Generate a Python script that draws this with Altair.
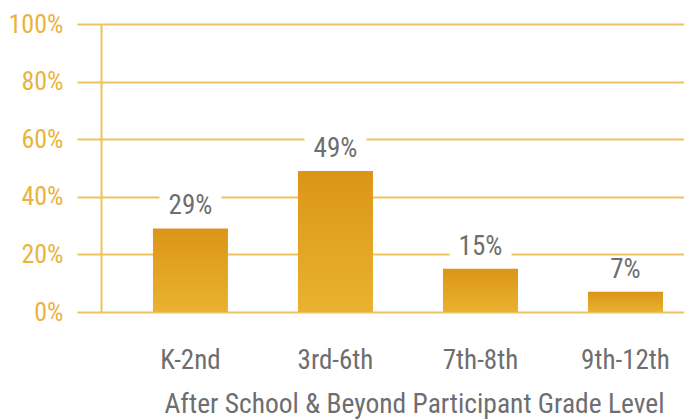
import altair as alt
import pandas as pd

grades = ["K-2nd", "3rd-6th", "7th-8th", "9th-12th"]
shares = [29, 49, 15, 7]
labels = ["29%", "49%", "15%", "7%"]
y_ticks = [0, 20, 40, 60, 80, 100]

df = pd.DataFrame({"grade": grades, "share": shares, "label": labels})

FONT = "Liberation Sans Narrow, Roboto Condensed, DejaVu Sans Condensed, sans-serif"
GOLD = "#E9B43C"
GRID = "#EDC35E"
GRAY = "#6E6E70"

x_scale = alt.Scale(paddingInner=0.483, paddingOuter=0.2517, align=0.712)

x_enc = alt.X(
    "grade:N",
    sort=grades,
    scale=x_scale,
    axis=alt.Axis(
        title="After School & Beyond Participant Grade Level",
        labelAngle=0,
        labelFont=FONT,
        labelFontSize=27,
        labelColor=GRAY,
        labelPadding=35,
        titleFont=FONT,
        titleFontSize=27.5,
        titleFontWeight="normal",
        titleColor=GRAY,
        titlePadding=17,
        titleX=313,
        domain=False,
        ticks=False,
        grid=False,
    ),
)

y_scale = alt.Scale(domain=[0, 100], nice=False)

bars = alt.Chart(df).mark_bar(
    size=75,
    color=alt.Gradient(
        gradient="linear",
        x1=0, x2=0, y1=0, y2=1,
        stops=[alt.GradientStop(color="#DB9519", offset=0),
               alt.GradientStop(color="#E9B22F", offset=1)],
    ),
).encode(
    x=x_enc,
    y=alt.Y(
        "share:Q",
        scale=y_scale,
        axis=alt.Axis(
            title=None,
            values=y_ticks,
            labelExpr="datum.value + '%'",
            labelFont=FONT,
            labelFontSize=26,
            labelColor=GOLD,
            labelPadding=14,
            tickSize=24,
            tickColor=GRID,
            tickWidth=2,
            gridColor=GRID,
            gridWidth=2,
            gridOpacity=1,
            domainColor=GRID,
            domainWidth=2,
        ),
    ),
)

backs = alt.Chart(df).mark_bar(
    size=62, color="white", yOffset=-35, y2Offset=-12
).encode(
    x=alt.X("grade:N", sort=grades, scale=x_scale),
    y=alt.Y("share:Q", scale=y_scale),
    y2=alt.Y2("share:Q"),
)

text = alt.Chart(df).mark_text(
    font=FONT, fontSize=27, color=GRAY, baseline="alphabetic", dy=-14
).encode(
    x=alt.X("grade:N", sort=grades, scale=x_scale),
    y=alt.Y("share:Q", scale=y_scale),
    text="label:N",
)

chart = alt.layer(bars, backs, text).properties(
    width=583,
    height=288,
    padding={"left": 93, "top": 16, "right": 0, "bottom": 108},
    autosize=alt.AutoSizeParams(type="none"),
).configure_view(stroke=None)

chart.save("out.html", embed_options={"renderer": "svg", "actions": False})
